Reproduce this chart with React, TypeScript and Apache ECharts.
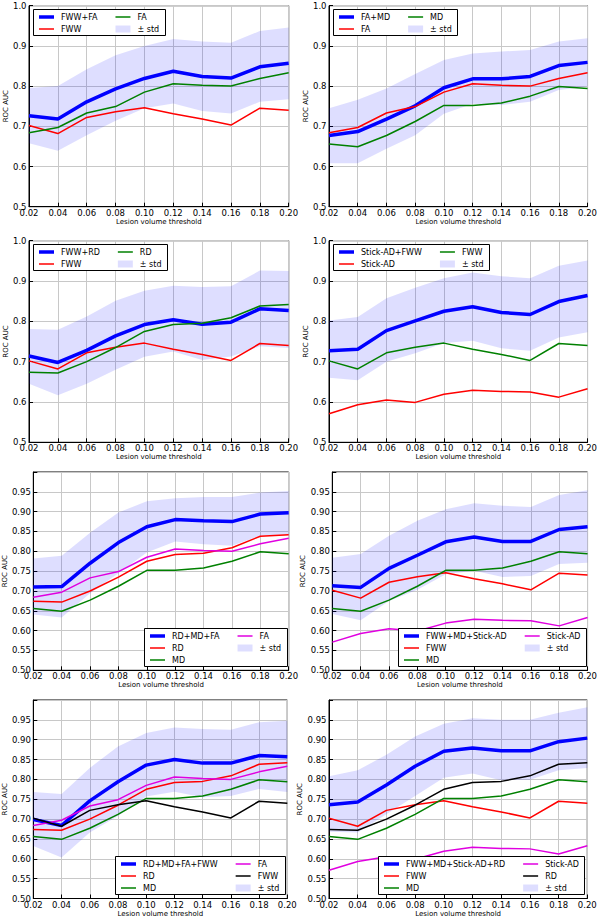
import React, { useEffect, useRef } from 'react';
import * as echarts from 'echarts';

// ---------- data ----------
const thresholds = [0.02, 0.04, 0.06, 0.08, 0.1, 0.12, 0.14, 0.16, 0.18, 0.2];

const fww = [0.702, 0.682, 0.722, 0.736, 0.746, 0.731, 0.718, 0.703, 0.745, 0.74];
const fa = [0.684, 0.697, 0.733, 0.749, 0.785, 0.806, 0.802, 0.8, 0.819, 0.833];
const md = [0.656, 0.649, 0.677, 0.712, 0.752, 0.752, 0.758, 0.775, 0.799, 0.794];
const rd = [0.674, 0.672, 0.7, 0.735, 0.775, 0.792, 0.795, 0.809, 0.838, 0.842];
const stickAd = [0.571, 0.593, 0.605, 0.599, 0.619, 0.629, 0.626, 0.625, 0.612, 0.633];

const fwwFa = [0.726, 0.718, 0.761, 0.793, 0.819, 0.837, 0.824, 0.82, 0.848, 0.857];
const fwwFaHi = [0.795, 0.8, 0.842, 0.877, 0.9, 0.917, 0.911, 0.908, 0.937, 0.946];
const fwwFaLo = [0.658, 0.639, 0.678, 0.714, 0.745, 0.757, 0.738, 0.732, 0.761, 0.767];

const faMd = [0.677, 0.687, 0.718, 0.751, 0.796, 0.818, 0.818, 0.824, 0.851, 0.859];
const faMdHi = [0.745, 0.766, 0.794, 0.83, 0.865, 0.881, 0.886, 0.89, 0.911, 0.919];
const faMdLo = [0.608, 0.608, 0.644, 0.678, 0.731, 0.756, 0.753, 0.761, 0.79, 0.799];

const fwwRd = [0.714, 0.698, 0.728, 0.764, 0.792, 0.804, 0.793, 0.798, 0.831, 0.827];
const fwwRdHi = [0.781, 0.779, 0.812, 0.851, 0.876, 0.888, 0.885, 0.887, 0.926, 0.925];
const fwwRdLo = [0.645, 0.617, 0.645, 0.68, 0.712, 0.725, 0.704, 0.713, 0.738, 0.734];

const stickFww = [0.727, 0.731, 0.777, 0.801, 0.825, 0.836, 0.822, 0.817, 0.849, 0.864];
const stickFwwHi = [0.802, 0.811, 0.857, 0.883, 0.907, 0.921, 0.912, 0.907, 0.938, 0.951];
const stickFwwLo = [0.66, 0.654, 0.7, 0.721, 0.746, 0.752, 0.733, 0.727, 0.76, 0.773];

const rdMdFa = [0.71, 0.711, 0.77, 0.822, 0.862, 0.88, 0.877, 0.875, 0.894, 0.897];
const rdMdFaHi = [0.782, 0.789, 0.847, 0.898, 0.926, 0.934, 0.937, 0.937, 0.948, 0.952];
const rdMdFaLo = [0.641, 0.633, 0.694, 0.745, 0.797, 0.825, 0.818, 0.814, 0.839, 0.843];

const fwwMdStick = [0.713, 0.709, 0.757, 0.79, 0.824, 0.836, 0.825, 0.825, 0.855, 0.862];
const fwwMdStickHi = [0.784, 0.793, 0.839, 0.877, 0.906, 0.921, 0.915, 0.912, 0.942, 0.954];
const fwwMdStickLo = [0.642, 0.626, 0.675, 0.703, 0.742, 0.751, 0.735, 0.738, 0.768, 0.771];

const rdMdFaFww = [0.699, 0.684, 0.746, 0.794, 0.836, 0.85, 0.841, 0.841, 0.86, 0.857];
const rdMdFaFwwHi = [0.768, 0.763, 0.829, 0.883, 0.917, 0.931, 0.927, 0.925, 0.944, 0.948];
const rdMdFaFwwLo = [0.632, 0.603, 0.666, 0.708, 0.757, 0.769, 0.755, 0.758, 0.776, 0.768];

const fwwMdStickRd = [0.736, 0.743, 0.786, 0.833, 0.871, 0.879, 0.872, 0.872, 0.895, 0.904];
const fwwMdStickRdHi = [0.808, 0.823, 0.862, 0.908, 0.94, 0.954, 0.95, 0.95, 0.968, 0.982];
const fwwMdStickRdLo = [0.668, 0.666, 0.712, 0.758, 0.804, 0.815, 0.798, 0.799, 0.823, 0.829];

// ---------- styles ----------
const BLUE = '#0000ff';
const RED = '#ff0000';
const GREEN = '#008000';
const MAGENTA = '#e000e0';
const BLACK = '#000000';
const BAND = 'rgba(0,0,255,0.13)';
const GRIDC = '#c8c8c8';
const FONT = '"DejaVu Sans", "Liberation Sans", sans-serif';
const STD_LABEL = '± std';

type Line = { name: string; data: number[]; color: string };
type Panel = {
  box: [number, number, number, number];
  fine: boolean;
  main: Line;
  hi: number[];
  lo: number[];
  others: Line[];
  legend: 'ul' | 'lr';
  nameGap: number;
};

const panels: Panel[] = [
  {
    box: [29, 5.7, 288.7, 206.7], fine: false, nameGap: 18, legend: 'ul',
    main: { name: 'FWW+FA', data: fwwFa, color: BLUE }, hi: fwwFaHi, lo: fwwFaLo,
    others: [{ name: 'FWW', data: fww, color: RED }, { name: 'FA', data: fa, color: GREEN }],
  },
  {
    box: [329, 5.7, 588.7, 206.7], fine: false, nameGap: 18, legend: 'ul',
    main: { name: 'FA+MD', data: faMd, color: BLUE }, hi: faMdHi, lo: faMdLo,
    others: [{ name: 'FA', data: fa, color: RED }, { name: 'MD', data: md, color: GREEN }],
  },
  {
    box: [29, 240.7, 288.7, 442.3], fine: false, nameGap: 18, legend: 'ul',
    main: { name: 'FWW+RD', data: fwwRd, color: BLUE }, hi: fwwRdHi, lo: fwwRdLo,
    others: [{ name: 'FWW', data: fww, color: RED }, { name: 'RD', data: rd, color: GREEN }],
  },
  {
    box: [329, 240.7, 588.7, 442.3], fine: false, nameGap: 18, legend: 'ul',
    main: { name: 'Stick-AD+FWW', data: stickFww, color: BLUE }, hi: stickFwwHi, lo: stickFwwLo,
    others: [{ name: 'Stick-AD', data: stickAd, color: RED }, { name: 'FWW', data: fww, color: GREEN }],
  },
  {
    box: [32.3, 472, 288.7, 670.3], fine: true, nameGap: 21, legend: 'lr',
    main: { name: 'RD+MD+FA', data: rdMdFa, color: BLUE }, hi: rdMdFaHi, lo: rdMdFaLo,
    others: [
      { name: 'RD', data: rd, color: RED },
      { name: 'MD', data: md, color: GREEN },
      { name: 'FA', data: fa, color: MAGENTA },
    ],
  },
  {
    box: [332.3, 472, 588.7, 670.3], fine: true, nameGap: 21, legend: 'lr',
    main: { name: 'FWW+MD+Stick-AD', data: fwwMdStick, color: BLUE }, hi: fwwMdStickHi, lo: fwwMdStickLo,
    others: [
      { name: 'FWW', data: fww, color: RED },
      { name: 'MD', data: md, color: GREEN },
      { name: 'Stick-AD', data: stickAd, color: MAGENTA },
    ],
  },
  {
    box: [29, 700, 287.3, 898.7], fine: true, nameGap: 20.5, legend: 'lr',
    main: { name: 'RD+MD+FA+FWW', data: rdMdFaFww, color: BLUE }, hi: rdMdFaFwwHi, lo: rdMdFaFwwLo,
    others: [
      { name: 'RD', data: rd, color: RED },
      { name: 'MD', data: md, color: GREEN },
      { name: 'FA', data: fa, color: MAGENTA },
      { name: 'FWW', data: fww, color: BLACK },
    ],
  },
  {
    box: [329, 700, 587.3, 898.7], fine: true, nameGap: 20.5, legend: 'lr',
    main: { name: 'FWW+MD+Stick-AD+RD', data: fwwMdStickRd, color: BLUE }, hi: fwwMdStickRdHi, lo: fwwMdStickRdLo,
    others: [
      { name: 'FWW', data: fww, color: RED },
      { name: 'MD', data: md, color: GREEN },
      { name: 'Stick-AD', data: stickAd, color: MAGENTA },
      { name: 'RD', data: rd, color: BLACK },
    ],
  },
];

const pairs = (ys: number[]) => thresholds.map((x, i) => [x, ys[i]]);

function makeMeasure() {
  const c = document.createElement('canvas').getContext('2d');
  return (s: string) => {
    if (!c) return s.length * 5;
    c.font = '8px "DejaVu Sans"';
    return c.measureText(s).width;
  };
}

function legendGraphics(p: Panel, measure: (s: string) => number) {
  type Item = { name: string; color: string; width: number; patch: boolean };
  const items: Item[] = [
    { name: p.main.name, color: p.main.color, width: 3.5, patch: false },
    ...p.others.map((o) => ({ name: o.name, color: o.color, width: 1.5, patch: false })),
    { name: STD_LABEL, color: BAND, width: 0, patch: true },
  ];
  const nrows = Math.ceil(items.length / 2);
  const cols = [items.slice(0, nrows), items.slice(nrows)];
  const colW = cols.map((c) => Math.max(...c.map((it) => measure(it.name))));
  const PADL = 5.5, HL = 15, HG = 7, CS = 18, PADR = 6, PADT = 7.5, RS = 12, PADB = 6.5;
  const itemW = (cw: number) => HL + HG + cw;
  const width = PADL + itemW(colW[0]) + CS + itemW(colW[1]) + PADR;
  const height = PADT + (nrows - 1) * RS + PADB;
  let left: number, top: number;
  if (p.legend === 'ul') {
    left = p.box[0] + 3.5;
    top = p.box[1] + 3;
  } else {
    left = p.box[2] - 2.5 - width;
    top = p.box[3] - 4.5 - height;
  }
  left = Math.round(left) + 0.5;
  top = Math.round(top) + 0.5;
  const els: any[] = [
    {
      type: 'rect', silent: true, z: 100,
      shape: { x: left, y: top, width: Math.round(width), height: Math.round(height) },
      style: { fill: '#ffffff', stroke: '#000000', lineWidth: 1 },
    },
  ];
  cols.forEach((col, ci) => {
    const x0 = left + PADL + (ci ? itemW(colW[0]) + CS : 0);
    col.forEach((it, ri) => {
      const y = top + PADT + ri * RS;
      if (it.patch) {
        els.push({
          type: 'rect', silent: true, z: 101,
          shape: { x: x0, y: y - 3.5, width: HL, height: 7 },
          style: { fill: it.color, stroke: 'none' },
        });
      } else {
        els.push({
          type: 'line', silent: true, z: 101,
          shape: { x1: x0, y1: y, x2: x0 + HL, y2: y },
          style: { stroke: it.color, lineWidth: it.width },
        });
      }
      els.push({
        type: 'text', silent: true, z: 102,
        x: x0 + HL + HG, y: y,
        style: {
          text: it.name, fill: '#000', font: '8px ' + FONT,
          align: 'left', verticalAlign: 'middle',
        },
      });
    });
  });
  return els;
}

function buildOption() {
  const measure = makeMeasure();
  const grid = panels.map((p) => ({
    left: p.box[0], top: p.box[1],
    width: p.box[2] - p.box[0], height: p.box[3] - p.box[1],
    show: true, borderColor: '#000', borderWidth: 1, backgroundColor: 'transparent',
    containLabel: false,
  }));
  const xAxis = panels.map((p, i) => ({
    type: 'value', gridIndex: i, min: 0.02, max: 0.2, interval: 0.02,
    name: 'Lesion volume threshold', nameLocation: 'middle', nameGap: 11.5,
    nameTextStyle: { fontFamily: FONT, fontSize: 7, color: '#000' },
    axisLine: { show: true, lineStyle: { color: '#000', width: 1 } },
    axisTick: { show: true, inside: true, length: 4, lineStyle: { color: '#000' } },
    axisLabel: {
      fontFamily: FONT, fontSize: 8.5, color: '#000', margin: 1.5,
      formatter: (v: number) => v.toFixed(2),
    },
    splitLine: { show: true, lineStyle: { color: GRIDC, width: 1 } },
  }));
  const yAxis = panels.map((p, i) => ({
    type: 'value', gridIndex: i, min: 0.5, max: 1.0, interval: p.fine ? 0.05 : 0.1,
    name: 'ROC AUC', nameLocation: 'middle', nameGap: p.nameGap,
    nameTextStyle: { fontFamily: FONT, fontSize: 7, color: '#000' },
    axisLine: { show: true, lineStyle: { color: '#000', width: 1 } },
    axisTick: { show: true, inside: true, length: 4, lineStyle: { color: '#000' } },
    axisLabel: {
      fontFamily: FONT, fontSize: 8.5, color: '#000', margin: 2.5,
      formatter: (v: number) => (p.fine ? (v > 0.999 ? '' : v.toFixed(2)) : v.toFixed(1)),
    },
    splitLine: { show: true, lineStyle: { color: GRIDC, width: 1 } },
  }));
  const series: any[] = [];
  panels.forEach((p, i) => {
    // ± std band: one polygon built from the hi / lo arrays through the axis scales
    series.push({
      type: 'custom', name: STD_LABEL, xAxisIndex: i, yAxisIndex: i, silent: true, z: 1,
      data: thresholds.map((x, k) => [x, p.lo[k], p.hi[k]]),
      encode: { x: 0, y: [1, 2] },
      renderItem: (params: any, api: any) => {
        if (params.dataIndex !== 0) return null;
        const upper = thresholds.map((x, k) => api.coord([x, p.hi[k]]));
        const lower = thresholds.map((x, k) => api.coord([x, p.lo[k]])).reverse();
        return {
          type: 'polygon',
          shape: { points: upper.concat(lower) },
          style: { fill: BAND, stroke: 'none' },
        };
      },
    });
    series.push({
      type: 'line', name: p.main.name, xAxisIndex: i, yAxisIndex: i,
      data: pairs(p.main.data), symbol: 'none', showSymbol: false,
      lineStyle: { color: p.main.color, width: 3.5 }, itemStyle: { color: p.main.color }, z: 3,
    });
    p.others.forEach((o) => {
      series.push({
        type: 'line', name: o.name, xAxisIndex: i, yAxisIndex: i,
        data: pairs(o.data), symbol: 'none', showSymbol: false,
        lineStyle: { color: o.color, width: 1.5 }, itemStyle: { color: o.color }, z: 4,
      });
    });
  });
  const graphic = panels.flatMap((p) => legendGraphics(p, measure));
  return {
    animation: false,
    backgroundColor: '#ffffff',
    textStyle: { fontFamily: FONT },
    grid, xAxis, yAxis, series, graphic,
  };
}

export default function App() {
  const ref = useRef<HTMLDivElement>(null);
  useEffect(() => {
    if (!ref.current) return;
    const chart = echarts.init(ref.current, undefined, { renderer: 'svg' });
    chart.setOption(buildOption() as any);
    return () => chart.dispose();
  }, []);
  return (
    <div
      ref={ref}
      style={{ position: 'absolute', left: 0, top: 0, width: 600, height: 918, background: '#fff' }}
    />
  );
}
